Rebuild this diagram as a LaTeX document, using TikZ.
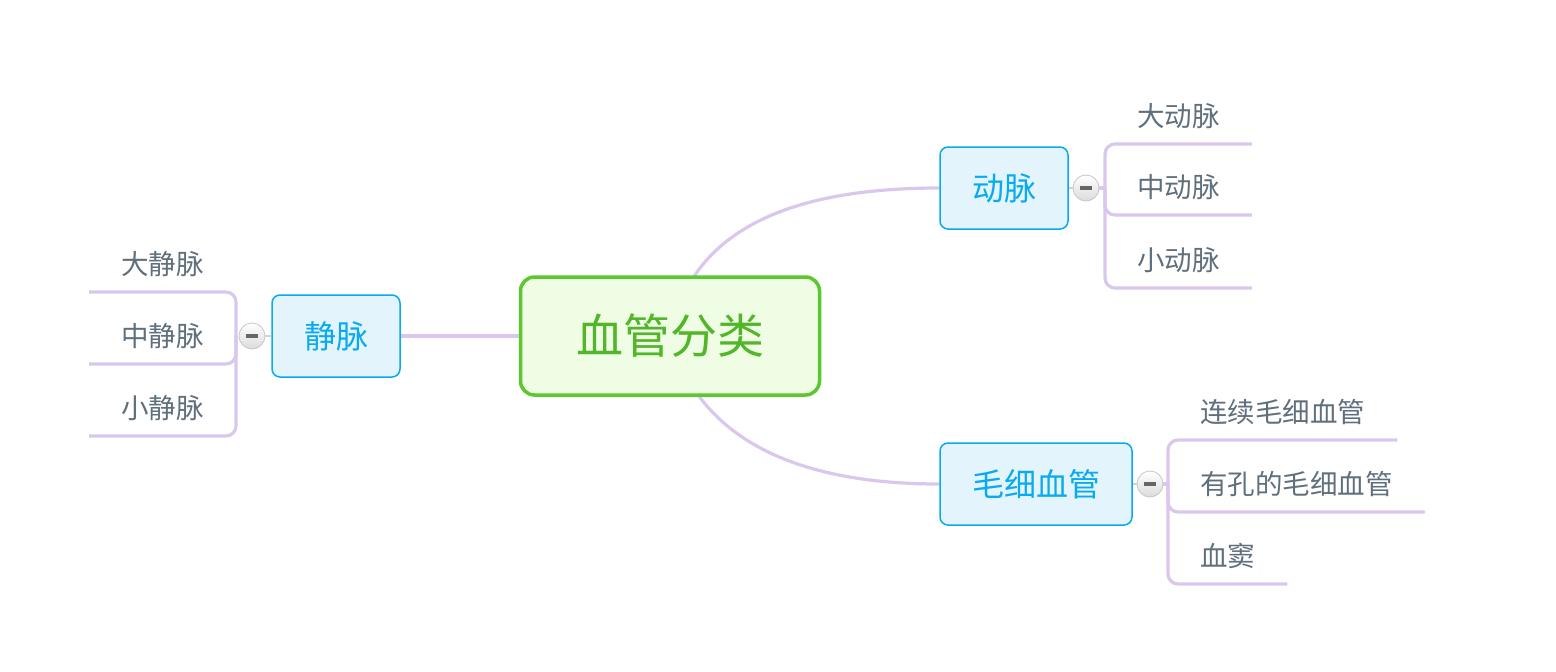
\documentclass[tikz,border=0pt]{standalone}
\usepackage{fontspec}
\setmainfont{Noto Sans CJK SC}
\usetikzlibrary{backgrounds}
\definecolor{linkpurple}{HTML}{D9C7ED}
\definecolor{rootgreen}{HTML}{5CC82E}
\definecolor{rootfill}{HTML}{EEFDE4}
\definecolor{roottext}{HTML}{52B52A}
\definecolor{topicblue}{HTML}{08AAF0}
\definecolor{topicfill}{HTML}{E3F4FD}
\definecolor{leafgray}{HTML}{5F6F7C}
\definecolor{foldgray}{HTML}{666666}
\begin{document}
\begin{tikzpicture}[x=1pt, y=-1pt,
    root/.style={draw=rootgreen, line width=3.5pt, fill=rootfill, rounded corners=14pt, text=roottext,
        font=\fontsize{47}{56}\selectfont, minimum width=299pt, minimum height=118pt},
    topic/.style={draw=topicblue, line width=1.5pt, fill=topicfill, rounded corners=8pt, text=topicblue,
        font=\fontsize{32}{38}\selectfont, inner xsep=32pt, minimum height=82pt},
    leaf/.style={text=leafgray, font=\fontsize{27.5}{32}\selectfont, inner xsep=32pt, inner ysep=0pt, minimum height=56pt},
    link/.style={draw=linkpurple, line width=3.2pt},
    branch/.style={link, rounded corners=10pt},
    fold/.style={circle, draw=gray!45, line width=0.8pt, top color=white, bottom color=gray!28, minimum size=26pt, inner sep=0pt,
        path picture={\draw[line width=3.5pt, foldgray] ([xshift=-6pt]path picture bounding box.center) -- ([xshift=6pt]path picture bounding box.center);}}]
    \useasboundingbox (0,0) rectangle (1556,672);

    \node[root] (root) at (670,336) {血管分类};
    \node[topic] (dong) at (1004,188) {动脉};
    \node[topic] (jing) at (336,336) {静脉};
    \node[topic] (mao) at (1036,484) {毛细血管};

    \begin{scope}[on background layer]
        \draw[link] (root.center) .. controls +(20,-100) and +(-160,0) .. (dong.west);
        \draw[link] (root.center) .. controls +(27,97) and +(-153,0) .. (mao.west);
        \draw[link] (root) -- (jing);
    \end{scope}

    % 动脉
    \node[fold] (dongfold) at (1086,188) {};
    \coordinate (dongj) at (1105,188);
    \node[leaf, anchor=south west] (d1) at (1105,144) {大动脉};
    \node[leaf, anchor=south west] (d2) at (1105,215) {中动脉};
    \node[leaf, anchor=south west] (d3) at (1105,288) {小动脉};
    \draw[link, line width=2pt] (dong) -- (dongfold);
    \draw[link] (dongfold) -- (dongj);
    \draw[branch] (dongj) |- (d1.south east);
    \draw[branch] (dongj) |- (d2.south east);
    \draw[branch] (dongj) |- (d3.south east);

    % 静脉
    \node[fold] (jingfold) at (252,336) {};
    \coordinate (jingj) at (236,336);
    \node[leaf, anchor=south east] (s1) at (236,292) {大静脉};
    \node[leaf, anchor=south east] (s2) at (236,364) {中静脉};
    \node[leaf, anchor=south east] (s3) at (236,436) {小静脉};
    \draw[link, line width=2pt] (jing) -- (jingfold);
    \draw[branch] (jingj) |- (s1.south west);
    \draw[branch] (jingj) |- (s2.south west);
    \draw[branch] (jingj) |- (s3.south west);

    % 毛细血管
    \node[fold] (maofold) at (1150,484) {};
    \coordinate (maoj) at (1168,484);
    \node[leaf, anchor=south west] (m1) at (1168,440) {连续毛细血管};
    \node[leaf, anchor=south west] (m2) at (1168,512) {有孔的毛细血管};
    \node[leaf, anchor=south west] (m3) at (1168,584) {血窦};
    \draw[link, line width=2pt] (mao) -- (maofold);
    \draw[link] (maofold) -- (maoj);
    \draw[branch] (maoj) |- (m1.south east);
    \draw[branch] (maoj) |- (m2.south east);
    \draw[branch] (maoj) |- (m3.south east);
\end{tikzpicture}
\end{document}
